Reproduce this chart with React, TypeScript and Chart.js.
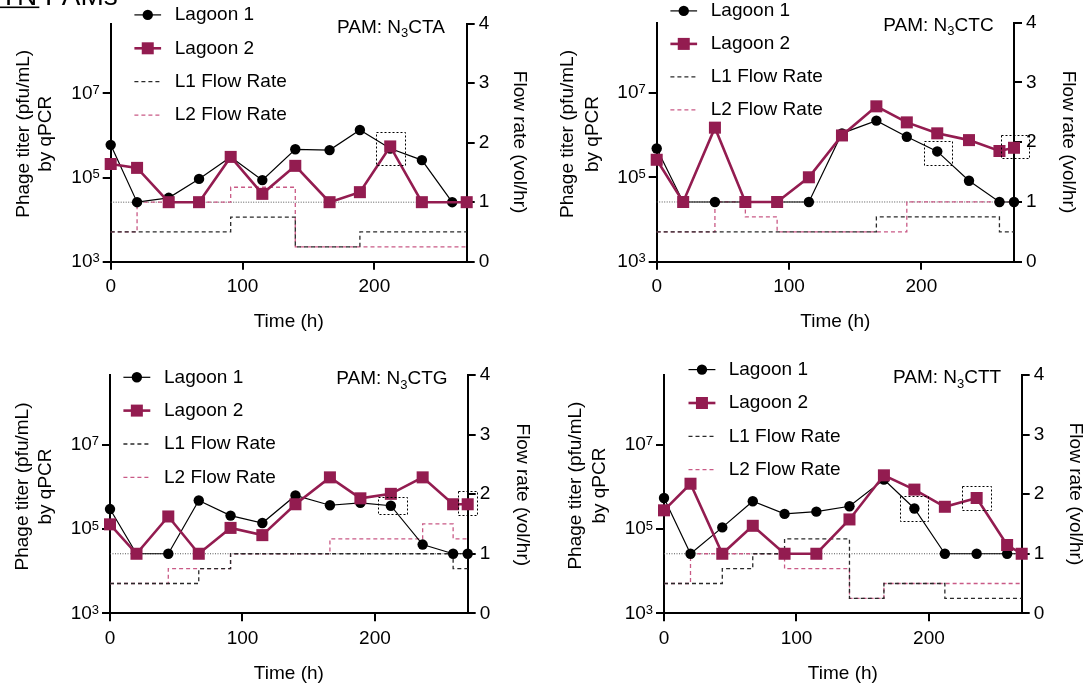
import React, { useEffect, useRef } from 'react';
import { Chart, registerables } from 'chart.js';
Chart.register(...registerables);

const FONT = '"Liberation Sans", Arial, Helvetica, sans-serif';
const MAROON = '#931C50';
const PINK = '#C95A86';
const DARK = '#2A2A2A';

// ---- data ----
const TIMES = [0, 20, 44, 67, 91, 115, 140, 166, 189, 212, 236, 259, 270];
const LOD = 2.6e4;
const TIME_MAX = 270;
const TITER_MIN = 1e3;
const TITER_MAX = 4.6e8;
const X_TICKS = [0, 100, 200];
const TITER_TICKS = [1e3, 1e5, 1e7];
const FLOW_TICKS = [0, 1, 2, 3, 4];
const LEGEND_LABELS = ['Lagoon 1', 'Lagoon 2', 'L1 Flow Rate', 'L2 Flow Rate'];
const PAM_PREFIX = 'PAM: N';
const PAM_SUB = '3';
const PAM_SUFFIXES = ['CTA', 'CTC', 'CTG', 'CTT'];
const LEFT_TITLE = ['Phage titer (pfu/mL)', 'by qPCR'];
const RIGHT_TITLE = 'Flow rate (vol/hr)';
const X_TITLE = 'Time (h)';
const HEADER_UNDERLINED = 'TN';
const HEADER_REST = ' PAMs';

const CTA_LAGOON1 = [6.0e5, 2.6e4, 3.3e4, 9.3e4, 3.1e5, 8.7e4, 4.7e5, 4.5e5, 1.35e6, 4.9e5, 2.6e5, 2.6e4, 2.6e4];
const CTA_LAGOON2 = [2.1e5, 1.7e5, 2.6e4, 2.6e4, 3.1e5, 4.1e4, 1.9e5, 2.6e4, 4.5e4, 5.5e5, 2.6e4, null, 2.6e4];
const CTC_LAGOON1 = [4.8e5, 2.6e4, 2.6e4, 2.6e4, 2.6e4, 2.6e4, 1.1e6, 2.2e6, 9.1e5, 4.1e5, 8.3e4, 2.6e4, 2.6e4];
const CTC_LAGOON2 = [2.6e5, 2.6e4, 1.5e6, 2.6e4, 2.6e4, 1.0e5, 9.8e5, 4.8e6, 2.0e6, 1.1e6, 7.6e5, 4.2e5, 5.0e5];
const CTG_LAGOON1 = [3.0e5, 2.6e4, 2.6e4, 4.8e5, 2.1e5, 1.4e5, 6.3e5, 3.7e5, 4.2e5, 3.6e5, 4.3e4, 2.6e4, 2.6e4];
const CTG_LAGOON2 = [1.3e5, 2.6e4, 2.0e5, 2.6e4, 1.07e5, 7.2e4, 3.9e5, 1.7e6, 5.4e5, 6.9e5, 1.7e6, 3.9e5, 3.9e5];
const CTT_LAGOON1 = [5.5e5, 2.6e4, 1.1e5, 4.6e5, 2.3e5, 2.6e5, 3.5e5, 1.5e6, 3.1e5, 2.6e4, 2.6e4, 2.6e4, 2.6e4];
const CTT_LAGOON2 = [2.8e5, 1.2e6, 2.6e4, 1.2e5, 2.6e4, 2.6e4, 1.7e5, 1.9e6, 8.7e5, 3.4e5, 5.5e5, 4.2e4, 2.6e4];

const CTA_FLOW1_T = [0, 91, 140, 189, 270];
const CTA_FLOW1_V = [0.5, 0.75, 0.25, 0.5, 0.5];
const CTA_FLOW2_T = [0, 20, 91, 140, 270];
const CTA_FLOW2_V = [0.5, 1, 1.25, 0.25, 0.25];
const CTC_FLOW1_T = [0, 166, 259, 270];
const CTC_FLOW1_V = [0.5, 0.75, 0.5, 0.5];
const CTC_FLOW2_T = [0, 44, 67, 91, 189, 270];
const CTC_FLOW2_V = [0.5, 1, 0.75, 0.5, 1, 1];
const CTG_FLOW1_T = [0, 67, 91, 259, 270];
const CTG_FLOW1_V = [0.5, 0.75, 1, 0.75, 0.75];
const CTG_FLOW2_T = [0, 44, 91, 166, 236, 259, 270];
const CTG_FLOW2_V = [0.5, 0.75, 1, 1.25, 1.5, 1.25, 1.25];
const CTT_FLOW1_T = [0, 44, 67, 91, 140, 166, 212, 270];
const CTT_FLOW1_V = [0.5, 0.75, 1, 1.25, 0.25, 0.5, 0.25, 0.25];
const CTT_FLOW2_T = [0, 20, 91, 140, 166, 270];
const CTT_FLOW2_V = [0.5, 1, 0.75, 0.25, 0.5, 0.5];

// highlight boxes: [t start, t end, titer low, titer high]
const CTA_BOXES = [[201, 223, 1.97e5, 1.23e6]];
const CTC_BOXES = [[202, 223, 1.95e5, 7.1e5], [260, 281, 2.8e5, 1.0e6]];
const CTG_BOXES = [[202, 224, 2.3e5, 5.8e5], [263, 277.5, 2.1e5, 7.9e5]];
const CTT_BOXES = [[178, 199.5, 1.5e5, 6.0e5], [225, 247, 2.9e5, 1.07e6]];

// ---- layout ----
const PANELS = [
  {
    pam: PAM_SUFFIXES[0], l1: CTA_LAGOON1, l2: CTA_LAGOON2,
    f1t: CTA_FLOW1_T, f1v: CTA_FLOW1_V, f2t: CTA_FLOW2_T, f2v: CTA_FLOW2_V, boxes: CTA_BOXES,
    x: 0, y: 0, w: 545, h: 344, plot: { l: 110.7, r: 466.7, t: 23.5, b: 261.7 },
    legendRows: [14.9, 48.3, 81.7, 115.1], legendLine: [134.4, 161.1], legendText: 174.8,
    pamPos: [337, 25.9], leftTitle: [23.9, 46.2, 133.8], rightTitle: [519.5, 142.1], timeY: 321.9, header: true,
  },
  {
    pam: PAM_SUFFIXES[1], l1: CTC_LAGOON1, l2: CTC_LAGOON2,
    f1t: CTC_FLOW1_T, f1v: CTC_FLOW1_V, f2t: CTC_FLOW2_T, f2v: CTC_FLOW2_V, boxes: CTC_BOXES,
    x: 545, y: 0, w: 544, h: 344, plot: { l: 111.7, r: 469, t: 22.7, b: 261.7 },
    legendRows: [10.9, 43.9, 76.9, 109.9], legendLine: [125.4, 152.1], legendText: 165.8,
    pamPos: [338.3, 23.7], leftTitle: [22.8, 47.4, 134], rightTitle: [523.5, 142], timeY: 321.9, header: false,
  },
  {
    pam: PAM_SUFFIXES[2], l1: CTG_LAGOON1, l2: CTG_LAGOON2,
    f1t: CTG_FLOW1_T, f1v: CTG_FLOW1_V, f2t: CTG_FLOW2_T, f2v: CTG_FLOW2_V, boxes: CTG_BOXES,
    x: 0, y: 344, w: 545, h: 343, plot: { l: 110, r: 467.7, t: 31, b: 269.3 },
    legendRows: [33.3, 66.6, 100, 133.3], legendLine: [123.4, 150.3], legendText: 164,
    pamPos: [336.2, 33.3], leftTitle: [22.9, 45.3, 142.5], rightTitle: [522, 150.8], timeY: 330, header: false,
  },
  {
    pam: PAM_SUFFIXES[3], l1: CTT_LAGOON1, l2: CTT_LAGOON2,
    f1t: CTT_FLOW1_T, f1v: CTT_FLOW1_V, f2t: CTT_FLOW2_T, f2v: CTT_FLOW2_V, boxes: CTT_BOXES,
    x: 545, y: 344, w: 544, h: 343, plot: { l: 119, r: 476.7, t: 31, b: 269.3 },
    legendRows: [25.6, 59, 92.3, 125.6], legendLine: [143.5, 170.4], legendText: 183.7,
    pamPos: [348, 32.6], leftTitle: [30.5, 55, 141.6], rightTitle: [530.5, 150], timeY: 330, header: false,
  },
];

function makeDecor(p: any) {
  return {
    id: 'decor',
    afterDraw(chart: any) {
      const ctx = chart.ctx;
      const a = chart.chartArea;
      const xs = chart.scales.x;
      const ys = chart.scales.y;
      const yr = chart.scales.y1;
      ctx.save();
      ctx.fillStyle = '#000';

      // x tick labels
      ctx.font = `19px ${FONT}`;
      ctx.textAlign = 'center';
      ctx.textBaseline = 'middle';
      xs.ticks.forEach((t: any) => ctx.fillText(String(t.value), xs.getPixelForValue(t.value), a.bottom + 25.5));

      // right tick labels
      ctx.textAlign = 'left';
      yr.ticks.forEach((t: any) => ctx.fillText(String(t.value), a.right + 12, yr.getPixelForValue(t.value)));

      // left log tick labels (10^n)
      ys.ticks.forEach((t: any) => {
        const py = ys.getPixelForValue(t.value);
        const exp = String(Math.round(Math.log10(t.value)));
        const right = a.left - 11;
        ctx.font = `13px ${FONT}`;
        const ew = ctx.measureText(exp).width;
        ctx.textAlign = 'left';
        ctx.textBaseline = 'alphabetic';
        ctx.fillText(exp, right - ew, py + 0.5);
        ctx.font = `19px ${FONT}`;
        ctx.textAlign = 'right';
        ctx.textBaseline = 'middle';
        ctx.fillText('10', right - ew, py);
      });

      // axis titles
      ctx.font = `19px ${FONT}`;
      ctx.textAlign = 'center';
      ctx.textBaseline = 'middle';
      ctx.fillText(X_TITLE, (a.left + a.right) / 2, p.timeY);
      LEFT_TITLE.forEach((line, i) => {
        ctx.save();
        ctx.translate(p.leftTitle[i], p.leftTitle[2]);
        ctx.rotate(-Math.PI / 2);
        ctx.fillText(line, 0, 0);
        ctx.restore();
      });
      ctx.save();
      ctx.translate(p.rightTitle[0], p.rightTitle[1]);
      ctx.rotate(Math.PI / 2);
      ctx.fillText(RIGHT_TITLE, 0, 0);
      ctx.restore();

      // PAM label with subscript
      ctx.textAlign = 'left';
      ctx.textBaseline = 'alphabetic';
      const base = p.pamPos[1] + 6.8;
      let px = p.pamPos[0];
      ctx.font = `19px ${FONT}`;
      ctx.fillText(PAM_PREFIX, px, base);
      px += ctx.measureText(PAM_PREFIX).width;
      ctx.font = `13px ${FONT}`;
      ctx.fillText(PAM_SUB, px, base + 4.5);
      px += ctx.measureText(PAM_SUB).width;
      ctx.font = `19px ${FONT}`;
      ctx.fillText(p.pam, px, base);

      // legend
      const [lx1, lx2] = p.legendLine;
      const cx = (lx1 + lx2) / 2;
      p.legendRows.forEach((ry: number, i: number) => {
        ctx.save();
        ctx.beginPath();
        if (i === 0) {
          ctx.strokeStyle = '#000'; ctx.lineWidth = 1.2;
          ctx.moveTo(lx1, ry); ctx.lineTo(lx2, ry); ctx.stroke();
          ctx.beginPath(); ctx.fillStyle = '#000';
          ctx.arc(cx, ry, 5.2, 0, Math.PI * 2); ctx.fill();
        } else if (i === 1) {
          ctx.strokeStyle = MAROON; ctx.lineWidth = 2.6;
          ctx.moveTo(lx1, ry); ctx.lineTo(lx2, ry); ctx.stroke();
          ctx.fillStyle = MAROON;
          ctx.fillRect(cx - 6, ry - 6, 12, 12);
        } else {
          ctx.strokeStyle = i === 2 ? DARK : PINK; ctx.lineWidth = 1.3;
          ctx.setLineDash([4, 3]);
          ctx.moveTo(lx1, ry); ctx.lineTo(lx2, ry); ctx.stroke();
        }
        ctx.restore();
        ctx.fillStyle = '#000';
        ctx.font = `19px ${FONT}`;
        ctx.textAlign = 'left';
        ctx.textBaseline = 'middle';
        ctx.fillText(LEGEND_LABELS[i], p.legendText, ry);
      });

      // highlight boxes
      ctx.save();
      ctx.strokeStyle = '#000';
      ctx.lineWidth = 1;
      ctx.setLineDash([2, 2]);
      p.boxes.forEach((b: number[]) => {
        const x1 = xs.getPixelForValue(b[0]);
        const x2 = xs.getPixelForValue(b[1]);
        const y1 = ys.getPixelForValue(b[3]);
        const y2 = ys.getPixelForValue(b[2]);
        ctx.strokeRect(Math.round(x1) + 0.5, Math.round(y1) + 0.5, Math.round(x2 - x1), Math.round(y2 - y1));
      });
      ctx.restore();

      // cut-off header
      if (p.header) {
        ctx.font = `28px ${FONT}`;
        ctx.textAlign = 'left';
        ctx.textBaseline = 'alphabetic';
        ctx.fillText(HEADER_UNDERLINED + HEADER_REST, 0, 5);
        const uw = ctx.measureText(HEADER_UNDERLINED).width;
        ctx.fillRect(0, 6.5, uw + 2, 1.6);
      }
      ctx.restore();
    },
  };
}

function Panel({ p }: { p: any }) {
  const ref = useRef<HTMLCanvasElement | null>(null);
  useEffect(() => {
    const axisCommon = {
      grid: { display: true, drawOnChartArea: false, drawTicks: true, tickLength: 8, color: '#000', lineWidth: 2 },
      border: { display: true, color: '#000', width: 2 },
      ticks: { display: false },
    };
    const chart = new Chart(ref.current as HTMLCanvasElement, {
      type: 'line',
      data: {
        datasets: [
          {
            label: LEGEND_LABELS[1],
            data: TIMES.map((t, i) => ({ x: t, y: p.l2[i] })),
            borderColor: MAROON, backgroundColor: MAROON, borderWidth: 2.6,
            pointStyle: 'rect', pointRadius: 8.5, pointBorderWidth: 0,
            pointBackgroundColor: MAROON, yAxisID: 'y', order: 0, spanGaps: true, clip: false,
          },
          {
            label: LEGEND_LABELS[0],
            data: TIMES.map((t, i) => ({ x: t, y: p.l1[i] })),
            borderColor: '#000', backgroundColor: '#000', borderWidth: 1.2,
            pointStyle: 'circle', pointRadius: 5.2, pointBorderWidth: 0,
            pointBackgroundColor: '#000', yAxisID: 'y', order: 1, spanGaps: true, clip: false,
          },
          {
            label: LEGEND_LABELS[2],
            data: p.f1t.map((t: number, i: number) => ({ x: t, y: p.f1v[i] })),
            borderColor: DARK, borderWidth: 1.3, borderDash: [4, 3], stepped: true,
            pointRadius: 0, yAxisID: 'y1', order: 2, clip: false,
          },
          {
            label: LEGEND_LABELS[3],
            data: p.f2t.map((t: number, i: number) => ({ x: t, y: p.f2v[i] })),
            borderColor: PINK, borderWidth: 1.3, borderDash: [4, 3], stepped: true,
            pointRadius: 0, yAxisID: 'y1', order: 3, clip: false,
          },
          {
            label: 'LOD',
            data: [{ x: 0, y: LOD }, { x: TIME_MAX, y: LOD }],
            borderColor: '#555', borderWidth: 1, borderDash: [1, 1.5],
            pointRadius: 0, yAxisID: 'y', order: 4, clip: false,
          },
        ],
      },
      options: {
        responsive: false,
        animation: false,
        devicePixelRatio: 1,
        events: [],
        layout: { padding: { top: p.plot.t, left: 0, right: 0, bottom: 0 } },
        plugins: { legend: { display: false }, tooltip: { enabled: false } },
        scales: {
          x: {
            ...axisCommon, type: 'linear', position: 'bottom', min: 0, max: TIME_MAX,
            afterBuildTicks: (s: any) => { s.ticks = X_TICKS.map((v) => ({ value: v })); },
            afterFit: (s: any) => { s.height = p.h - p.plot.b; },
          },
          y: {
            ...axisCommon, type: 'logarithmic', position: 'left', min: TITER_MIN, max: TITER_MAX,
            afterBuildTicks: (s: any) => { s.ticks = TITER_TICKS.map((v) => ({ value: v })); },
            afterFit: (s: any) => { s.width = p.plot.l; },
          },
          y1: {
            ...axisCommon, type: 'linear', position: 'right', min: 0, max: 4,
            afterBuildTicks: (s: any) => { s.ticks = FLOW_TICKS.map((v) => ({ value: v })); },
            afterFit: (s: any) => { s.width = p.w - p.plot.r; },
          },
        },
      } as any,
      plugins: [makeDecor(p)],
    } as any);
    return () => chart.destroy();
  }, [p]);
  return (
    <canvas
      ref={ref}
      width={p.w}
      height={p.h}
      style={{ position: 'absolute', left: p.x, top: p.y, width: p.w, height: p.h }}
    />
  );
}

export default function App() {
  return (
    <div style={{ position: 'absolute', left: 0, top: 0, width: 1089, height: 687, background: '#fff', overflow: 'hidden' }}>
      {PANELS.map((p, i) => (
        <Panel key={i} p={p} />
      ))}
    </div>
  );
}
